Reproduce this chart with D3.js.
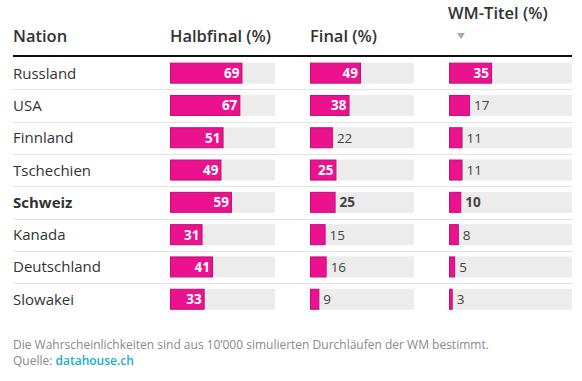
<!DOCTYPE html>
<html>
<head>
<meta charset="utf-8">
<script src="https://cdnjs.cloudflare.com/ajax/libs/d3/7.8.5/d3.min.js"></script>
<style>
  body { margin: 0; background: #fff; }
  svg { display: block; font-family: "Open Sans", sans-serif; }
</style>
</head>
<body>
<div id="chart"></div>
<script>
  var nations = ['Russland', 'USA', 'Finnland', 'Tschechien', 'Schweiz', 'Kanada', 'Deutschland', 'Slowakei'];
  var halbfinal = [69, 67, 51, 49, 59, 31, 41, 33];
  var final = [49, 38, 22, 25.4, 24.6, 15, 16, 9];
  var wmTitel = [35, 17, 11, 11, 10, 8, 5, 3];
  var highlight = 'Schweiz';
  var headers = ['Nation', 'Halbfinal (%)', 'Final (%)', 'WM-Titel (%)'];

  var width = 582, height = 381;
  var left = 13, right = 572;

  var svg = d3.select('#chart').append('svg')
    .attr('width', width)
    .attr('height', height);

  var y = d3.scaleBand()
    .domain(nations)
    .range([57, 57 + 32.3 * nations.length]);

  // columns: start x and track width
  var columns = [
    { key: 'halbfinal', values: halbfinal, x0: 170, w: 105 },
    { key: 'final', values: final, x0: 310, w: 104 },
    { key: 'wm', values: wmTitel, x0: 449, w: 123 }
  ];

  // header
  var headFont = 16.5;
  svg.append('text').attr('x', left).attr('y', 42)
    .attr('font-size', headFont).attr('font-weight', 600).attr('fill', '#333')
    .text(headers[0]);
  svg.append('text').attr('x', columns[0].x0).attr('y', 42)
    .attr('font-size', headFont).attr('font-weight', 600).attr('fill', '#333')
    .text(headers[1]);
  svg.append('text').attr('x', columns[1].x0).attr('y', 42)
    .attr('font-size', headFont).attr('font-weight', 600).attr('fill', '#333')
    .text(headers[2]);
  svg.append('text').attr('x', columns[2].x0 - 1).attr('y', 19)
    .attr('font-size', headFont).attr('font-weight', 600).attr('fill', '#333')
    .text(headers[3]);
  svg.append('path')
    .attr('d', 'M457,33 L465,33 L461,39 Z')
    .attr('fill', '#aaa');

  svg.append('line')
    .attr('x1', left).attr('x2', right)
    .attr('y1', 56).attr('y2', 56)
    .attr('stroke', '#111').attr('stroke-width', 2);

  // row separators
  svg.selectAll('.sep')
    .data(nations.slice(1))
    .enter().append('line')
    .attr('class', 'sep')
    .attr('x1', left).attr('x2', right)
    .attr('y1', (d) => Math.round(y(d)) + 0.5)
    .attr('y2', (d) => Math.round(y(d)) + 0.5)
    .attr('stroke', '#e3e3e3');

  // nation labels
  svg.selectAll('.nation')
    .data(nations)
    .enter().append('text')
    .attr('class', 'nation')
    .attr('x', left)
    .attr('y', (d) => y(d) + y.bandwidth() / 2 + 5.5)
    .attr('font-size', 15)
    .attr('font-weight', (d) => d === highlight ? 700 : 400)
    .attr('fill', '#333')
    .text((d) => d);

  var barH = 21;

  columns.forEach(function(col) {
    var x = d3.scaleLinear().domain([0, 100]).range([col.x0, col.x0 + col.w]);
    var g = svg.append('g').attr('class', col.key);
    var rows = nations.map((n, i) => ({ nation: n, value: col.values[i] }));

    g.selectAll('.track')
      .data(rows)
      .enter().append('rect')
      .attr('class', 'track')
      .attr('x', x(0))
      .attr('y', (d) => y(d.nation) + (y.bandwidth() - barH) / 2)
      .attr('width', x(100) - x(0))
      .attr('height', barH)
      .attr('fill', '#ececec');

    g.selectAll('.bar')
      .data(rows)
      .enter().append('rect')
      .attr('class', 'bar')
      .attr('x', x(0) + 0.5)
      .attr('y', (d) => y(d.nation) + (y.bandwidth() - barH) / 2 + 0.5)
      .attr('width', (d) => x(d.value) - x(0) - 1)
      .attr('height', barH - 1)
      .attr('fill', '#ec128f')
      .attr('stroke', '#c20f74')
      .attr('stroke-width', 1);

    g.selectAll('.val')
      .data(rows)
      .enter().append('text')
      .attr('class', 'val')
      .attr('x', (d) => d.value >= 25 ? x(d.value) - 3 : x(d.value) + 4)
      .attr('y', (d) => y(d.nation) + y.bandwidth() / 2 + 5)
      .attr('text-anchor', (d) => d.value >= 25 ? 'end' : 'start')
      .attr('font-size', 13.5)
      .attr('font-weight', (d) => (d.value >= 25 || d.nation === highlight) ? 700 : 400)
      .attr('fill', (d) => d.value >= 25 ? '#fff' : '#444')
      .text((d) => Math.round(d.value));
  });

  // footer
  svg.append('text').attr('x', left).attr('y', 349)
    .attr('font-size', 12).attr('fill', '#8a8a8a')
    .text('Die Wahrscheinlichkeiten sind aus 10\u2019000 simulierten Durchläufen der WM bestimmt.');
  var src = svg.append('text').attr('x', left).attr('y', 365)
    .attr('font-size', 12).attr('fill', '#8a8a8a');
  src.append('tspan').text('Quelle: ');
  src.append('tspan').attr('fill', '#1aaecb').attr('font-weight', 600).text('datahouse.ch');
</script>
</body>
</html>
